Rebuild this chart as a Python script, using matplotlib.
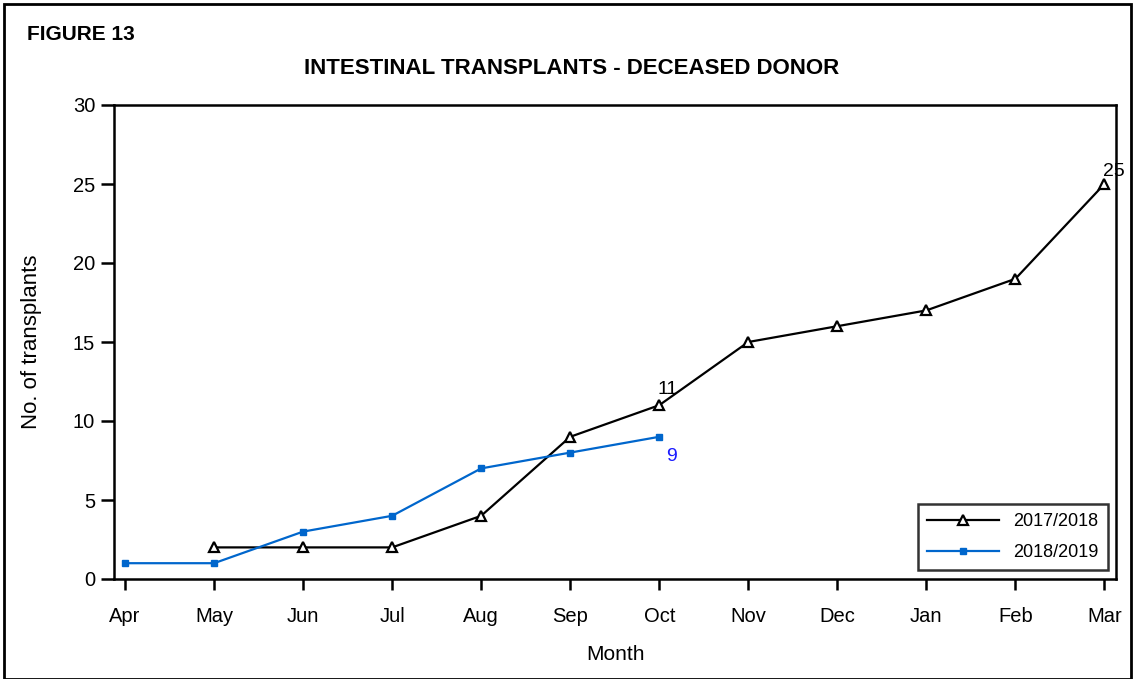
import matplotlib
matplotlib.use('Agg')
import matplotlib.pyplot as plt
from matplotlib.patches import Rectangle

months = ['Apr', 'May', 'Jun', 'Jul', 'Aug', 'Sep', 'Oct', 'Nov', 'Dec', 'Jan', 'Feb', 'Mar']
# 2017/2018 starts in May
x_1718 = months[1:]
y_1718 = [2, 2, 2, 4, 9, 11, 15, 16, 17, 19, 25]
# 2018/2019 runs Apr to Oct
x_1819 = months[:7]
y_1819 = [1, 1, 3, 4, 7, 8, 9]

plt.rcParams['font.family'] = ['Liberation Sans', 'DejaVu Sans']

fig = plt.figure(figsize=(11.34, 6.79), dpi=100)
ax = fig.add_axes([114 / 1134, 1 - 579 / 679, (1116 - 114) / 1134, (579 - 105) / 679])

pos = {m: i for i, m in enumerate(months)}
xa = [pos[m] for m in x_1718]
xb = [pos[m] for m in x_1819]

ax.plot(xa, y_1718, color='black', lw=1.6, marker='^', markersize=7.5,
        markerfacecolor='white', markeredgecolor='black', markeredgewidth=1.6, label='2017/2018')
ax.plot(xb, y_1819, color='#0066cc', lw=1.6, marker='s', markersize=5,
        markerfacecolor='#0066cc', markeredgecolor='#0066cc', label='2018/2019')

# value labels
ax.annotate(str(y_1718[5]), (xa[5], y_1718[5]), xytext=(6, 5), textcoords='offset points',
            ha='center', va='bottom', fontsize=14)
ax.annotate(str(y_1718[-1]), (xa[-1], y_1718[-1]), xytext=(7, 3), textcoords='offset points',
            ha='center', va='bottom', fontsize=14)
ax.annotate(str(y_1819[-1]), (xb[-1], y_1819[-1]), xytext=(9, -8), textcoords='offset points',
            ha='center', va='top', fontsize=14, color='#1a1aff')

ax.set_xlim(-0.124, 11.13)
ax.set_ylim(0, 30)
ax.set_xticks(range(len(months)))
ax.set_xticklabels(months)
ax.set_yticks(range(0, 31, 5))
ax.tick_params(axis='x', direction='out', length=8, width=1.8, labelsize=14.5, pad=12)
ax.tick_params(axis='y', direction='out', length=9.5, width=1.8, labelsize=14.5, pad=4)
for s in ax.spines.values():
    s.set_linewidth(1.8)

ax.set_xlabel('Month', fontsize=15, labelpad=14)
ax.set_ylabel('No. of transplants', fontsize=16, labelpad=22)

leg = ax.legend(loc='lower right', bbox_to_anchor=(0.992, 0.019), fontsize=13, frameon=True,
                fancybox=False, edgecolor='black', handlelength=4.0, borderpad=0.5,
                labelspacing=0.75, handletextpad=0.8, borderaxespad=0)
leg.get_frame().set_linewidth(1.8)

fig.text(27 / 1134, 1 - 35 / 679, 'FIGURE 13', fontsize=15, fontweight='bold', va='center', ha='left')
fig.text(572 / 1134, 1 - 68 / 679, 'INTESTINAL TRANSPLANTS - DECEASED DONOR', fontsize=16,
         fontweight='bold', va='center', ha='center')

# outer border
fig.patches.append(Rectangle((4 / 1134, 0), 1127 / 1134, 1 - 4 / 679, transform=fig.transFigure,
                             fill=False, edgecolor='black', lw=2))

fig.savefig('out.png', dpi=100)
